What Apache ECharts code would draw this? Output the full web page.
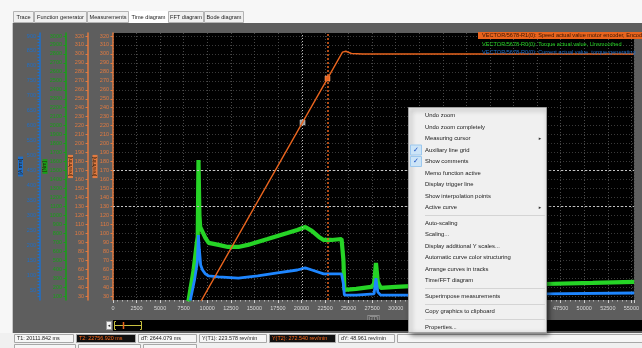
<!DOCTYPE html>
<html><head><meta charset="utf-8">
<script src="https://cdn.jsdelivr.net/npm/echarts@6/dist/echarts.min.js"></script>
<style>html,body{margin:0;padding:0;background:#f3f3f3;}#c{width:642px;height:348px;}</style>
</head><body><div id="c"></div>
<script>
// ---------- data ----------
const speedTime  = [0, 8030, 20111.842, 22756.92, 24350, 24700, 25300, 26500, 40000, 55300];
const speedRpm   = [0, 0, 223.578, 272.54, 302, 303, 300.5, 300, 300, 300];

const torqueTime = [8000, 8550, 8900, 8990, 9070, 9170, 9250, 9500, 9800, 10150, 11200, 12200, 13300, 14300, 15350, 16400, 17450, 18500, 19550, 20400, 21100, 21850, 22350, 23200, 24250, 24450, 24550, 25800, 27400, 27700, 27900, 28100, 28400, 30000, 32100, 38300, 45700, 50900, 55300];
const torqueVal  = [40, 390, 700, 760, 1617, 1000, 870, 815, 748, 692, 670, 647, 647, 670, 703, 736, 770, 803, 837, 870, 826, 759, 725, 725, 736, 500, 168, 179, 201, 234, 469, 257, 190, 201, 212, 220, 234, 246, 257];

const currentTime = [8200, 8650, 8950, 9060, 9170, 9300, 9500, 9800, 10150, 11200, 13300, 15350, 17450, 19550, 20400, 21100, 22350, 24250, 24450, 24550, 25800, 27700, 27900, 28100, 28400, 32100, 45700, 55300];
const currentVal  = [15, 84, 144, 234, 184, 134, 117, 104, 97, 94, 90, 97, 107, 117, 124, 117, 104, 104, 70, 33, 33, 37, 90, 43, 33, 33, 37, 40];

const cursorTimes  = [20111.842, 22756.920];
const cursorValues = [223.578, 272.540];
const commentLevels = [170, 130];

const range = (a, b, s) => { const r = []; for (let v = a; v <= b + 1e-9; v += s) r.push(v); return r; };
const speedTicks   = range(30, 320, 10);
const torqueTicks  = range(100, 3000, 100);
const currentLabels = range(50, 900, 50);
const currentTicks  = range(30, 900, 10);

const legendLines = [
  'VECTOR/5678-R1(0): Speed actual value motor encoder, Encoder',
  'VECTOR/5678-R0(0): Torque actual value, Unsmoothed',
  'VECTOR/5678-R0(0): Current actual value, torque-generating'
];
const tabs = ['Trace', 'Function generator', 'Measurements', 'Time diagram', 'FFT diagram', 'Bode diagram'];
const menuEntries = ['Undo zoom', 'Undo zoom completely', 'Measuring cursor>', 'vAuxiliary line grid', 'vShow comments',
  'Memo function active', 'Display trigger line', 'Show interpolation points', 'Active curve>', '-',
  'Auto-scaling', 'Scaling...', 'Display additional Y scales...', 'Automatic curve color structuring',
  'Arrange curves in tracks', 'Time/FFT diagram', '-', 'Superimpose measurements', '-',
  'Copy graphics to clipboard', '-', 'Properties...'];
const statusTexts = ['T1: 20111.842 ms', 'T2: 22756.920 ms', 'dT: 2644.079 ms', 'Y(T1): 223.578 rev/min', 'Y(T2): 272.540 rev/min', 'dY: 48.961 rev/min', ''];

// ---------- styling ----------
const FONT = 'Liberation Sans';
const ORANGE = '#e8641e', ORANGE_AX = '#e27a40', GREEN = '#26d426', GREEN_AX = '#17a017', BLUE = '#1e86ff', BLUE_AX = '#1f6fc8';
const PLOT_TOP = 33, PLOT_BOT = 300, LBL_TOP = 36, LBL_BOT = 296;

function yAx(lo, hi, labels, ticks, color, offset, name, nameGap, split) {
  const k = (hi - lo) / (LBL_BOT - LBL_TOP);
  return {
    type: 'value', position: 'left', offset: offset,
    min: lo - (PLOT_BOT - LBL_BOT) * k, max: hi + (LBL_TOP - PLOT_TOP) * k,
    axisLine: { show: true, onZero: false, lineStyle: { color: color, width: 1.5 } },
    axisTick: { show: true, length: 2.5, customValues: ticks, lineStyle: { color: color } },
    axisLabel: { customValues: labels, color: color, fontSize: 5.5, margin: 4, fontFamily: FONT, formatter: v => String(Math.round(v)) },
    splitLine: { show: split, lineStyle: { color: '#3a3a3a', type: [1, 2], width: 1 } },
    name: name, nameLocation: 'middle', nameGap: nameGap, nameRotate: 90, nameMoveOverlap: false,
    nameTextStyle: { color: '#2a1a0a', backgroundColor: color, fontSize: 5, padding: [0, 2], fontFamily: FONT }
  };
}

const pair = (t, v) => t.map((x, i) => [x, v[i]]);

const graphics = [];
// white window areas
graphics.push({ type: 'rect', z: 100, shape: { x: 0, y: 0, width: 642, height: 23 }, style: { fill: '#f7f7f7' } });
graphics.push({ type: 'rect', z: 100, shape: { x: 0, y: 0, width: 12, height: 348 }, style: { fill: '#f7f7f7' } });
graphics.push({ type: 'rect', z: 100, shape: { x: 0, y: 333, width: 642, height: 15 }, style: { fill: '#f0f0f0' } });
graphics.push({ type: 'line', z: 100, shape: { x1: 12.5, y1: 23, x2: 12.5, y2: 333 }, style: { stroke: '#c8c8c8', lineWidth: 1 } });
// tabs
const tabX = [13, 34, 87, 129, 168, 204, 244];
tabs.forEach((t, i) => {
  const sel = i === 3;
  graphics.push({ type: 'rect', z: 101, shape: { x: tabX[i] + 0.5, y: 11.5, width: tabX[i + 1] - tabX[i] - 1, height: 11 },
    style: { fill: sel ? '#ffffff' : '#f0f0f0', stroke: sel ? '#ffffff' : '#b4b4b4', lineWidth: 1 } });
  graphics.push({ type: 'text', z: 102, x: (tabX[i] + tabX[i + 1]) / 2, y: 17.5,
    style: { text: t, fill: '#222', fontSize: 5.6, fontFamily: FONT, align: 'center', verticalAlign: 'middle' } });
});
// legend
graphics.push({ type: 'rect', z: 100, shape: { x: 478, y: 32, width: 164, height: 7 }, style: { fill: ORANGE } });
graphics.push({ type: 'text', z: 101, x: 482, y: 35.8, style: { text: legendLines[0], fill: '#3a1400', fontSize: 5.6, fontFamily: FONT, verticalAlign: 'middle' } });
graphics.push({ type: 'text', z: 101, x: 482, y: 44, style: { text: legendLines[1], fill: GREEN, fontSize: 5.6, fontFamily: FONT, verticalAlign: 'middle' } });
graphics.push({ type: 'text', z: 101, x: 482, y: 52, style: { text: legendLines[2], fill: BLUE_AX, fontSize: 5.6, fontFamily: FONT, verticalAlign: 'middle' } });
// scroll strip
graphics.push({ type: 'rect', z: 100, shape: { x: 113, y: 320, width: 529, height: 11 }, style: { fill: '#000' } });
graphics.push({ type: 'rect', z: 101, shape: { x: 106.5, y: 321.5, width: 5, height: 8 }, style: { fill: '#f4f4f4', stroke: '#999' } });
graphics.push({ type: 'text', z: 102, x: 109, y: 325.5, style: { text: '\u25C2', fill: '#333', fontSize: 5, fontFamily: 'DejaVu Sans', align: 'center', verticalAlign: 'middle' } });
graphics.push({ type: 'polyline', z: 101, shape: { points: [[116, 321.5], [114.5, 321.5], [114.5, 329.5], [116, 329.5]] }, style: { stroke: '#c8c040', fill: null, lineWidth: 1 } });
graphics.push({ type: 'polyline', z: 101, shape: { points: [[140, 321.5], [141.5, 321.5], [141.5, 329.5], [140, 329.5]] }, style: { stroke: '#c8c040', fill: null, lineWidth: 1 } });
graphics.push({ type: 'line', z: 101, shape: { x1: 115, y1: 325.5, x2: 141, y2: 325.5 }, style: { stroke: '#c8c040', lineWidth: 1 } });
graphics.push({ type: 'line', z: 102, shape: { x1: 123.5, y1: 322, x2: 123.5, y2: 329 }, style: { stroke: ORANGE, lineWidth: 1.5 } });
// status bar
const stX = [14, 76, 138, 199, 269, 338, 397, 660];
statusTexts.forEach((t, i) => {
  const dark = i === 1 || i === 4;
  graphics.push({ type: 'rect', z: 101, shape: { x: stX[i] + 0.5, y: 334.5, width: stX[i + 1] - stX[i] - 3, height: 8 },
    style: { fill: dark ? '#111' : '#f6f6f6', stroke: '#a8a8a8', lineWidth: 1 } });
  graphics.push({ type: 'text', z: 102, x: stX[i] + 3, y: 338.8,
    style: { text: t, fill: dark ? '#ff6a1a' : '#222', fontSize: 5.4, fontFamily: FONT, verticalAlign: 'middle' } });
});
[[14, 75], [78, 140], [143, 196]].forEach(b => {
  graphics.push({ type: 'rect', z: 101, shape: { x: b[0] + 0.5, y: 344.5, width: b[1] - b[0], height: 8 }, style: { fill: '#f6f6f6', stroke: '#a8a8a8', lineWidth: 1 } });
});
// context menu
graphics.push({ type: 'rect', z: 110, shape: { x: 408.5, y: 107.5, width: 138, height: 225 },
  style: { fill: '#f0f0f0', stroke: '#a0a0a0', lineWidth: 1, shadowBlur: 5, shadowOffsetX: 2, shadowOffsetY: 2, shadowColor: 'rgba(0,0,0,0.55)' } });
let my = 115.5;
menuEntries.forEach(e => {
  if (e === '-') {
    graphics.push({ type: 'line', z: 111, shape: { x1: 425, y1: Math.round(my - 3.8) + 0.5, x2: 545, y2: Math.round(my - 3.8) + 0.5 }, style: { stroke: '#d4d4d4', lineWidth: 1 } });
    my += 4; return;
  }
  let txt = e, check = false, sub = false;
  if (txt[0] === 'v') { check = true; txt = txt.slice(1); }
  if (txt.endsWith('>')) { sub = true; txt = txt.slice(0, -1); }
  if (check) {
    graphics.push({ type: 'rect', z: 111, shape: { x: 410.5, y: my - 5, width: 11, height: 10 }, style: { fill: '#cce4f7', stroke: '#9cc8ee', lineWidth: 1 } });
    graphics.push({ type: 'text', z: 112, x: 416, y: my, style: { text: '\u2713', fill: '#1a4fc0', fontSize: 7, fontWeight: 'bold', fontFamily: 'DejaVu Sans', align: 'center', verticalAlign: 'middle' } });
  }
  graphics.push({ type: 'text', z: 112, x: 425, y: my, style: { text: txt, fill: '#1a1a1a', fontSize: 5.9, fontFamily: FONT, verticalAlign: 'middle' } });
  if (sub) graphics.push({ type: 'text', z: 112, x: 540, y: my, style: { text: '\u25B8', fill: '#333', fontSize: 5, fontFamily: 'DejaVu Sans', align: 'center', verticalAlign: 'middle' } });
  my += 11.5;
});

const option = {
  animation: false,
  backgroundColor: '#5e5e5e',
  grid: { left: 113, right: 0, top: PLOT_TOP, bottom: 348 - PLOT_BOT, show: true, backgroundColor: '#000', borderWidth: 0 },
  xAxis: {
    type: 'value', min: 0, max: (642 - 113) / 0.00957, interval: 2500,
    axisLine: { show: false },
    axisTick: { show: true, length: 3, lineStyle: { color: '#d0d0d0' } },
    minorTick: { show: true, splitNumber: 5, length: 1.5, lineStyle: { color: '#b8b8b8' } },
    axisLabel: { color: '#d6d6d6', fontSize: 5.5, margin: 5, fontFamily: FONT, formatter: v => String(v) },
    splitLine: { show: true, lineStyle: { color: '#4a4a4a', type: [1, 2], width: 1 } },
    name: '[ms]', nameLocation: 'middle', nameGap: 15, nameMoveOverlap: false,
    nameTextStyle: { color: '#222', fontSize: 5.5, fontFamily: FONT, backgroundColor: '#8c8c8c', padding: [0, 1] }
  },
  yAxis: [
    yAx(30, 320, speedTicks, speedTicks, ORANGE_AX, 0, '[rev/min]', 15.5, true),
    yAx(30, 320, speedTicks, speedTicks, ORANGE_AX, 25, '[rev/min]', 15, false),
    yAx(100, 3000, torqueTicks, torqueTicks, GREEN_AX, 47, '[Nm]', 18.5, false),
    yAx(30, 900, currentLabels, currentTicks, BLUE_AX, 73, '[A rms]', 17, false)
  ],
  series: [
    { type: 'line', name: 'Torque', yAxisIndex: 2, data: pair(torqueTime, torqueVal), symbol: 'none', clip: true, z: 3,
      lineStyle: { color: GREEN, width: 4.2 } },
    { type: 'line', name: 'Current', yAxisIndex: 3, data: pair(currentTime, currentVal), symbol: 'none', clip: true, z: 4,
      lineStyle: { color: BLUE, width: 2.8 } },
    { type: 'line', name: 'Speed', yAxisIndex: 0, data: pair(speedTime, speedRpm), symbol: 'none', clip: true, z: 5,
      lineStyle: { color: ORANGE, width: 1.4 },
      markLine: {
        silent: true, symbol: 'none', label: { show: false }, animation: false,
        data: [
          { xAxis: cursorTimes[0], lineStyle: { color: '#bdbdbd', type: [1, 2], width: 1 } },
          { xAxis: cursorTimes[1], lineStyle: { color: ORANGE, type: [2, 2], width: 1.5 } },
          { yAxis: commentLevels[0], lineStyle: { color: '#c4c4c4', type: [2, 2], width: 1 } },
          { yAxis: commentLevels[1], lineStyle: { color: '#c4c4c4', type: [2, 2], width: 1 } }
        ]
      },
      markPoint: {
        symbol: 'rect', symbolSize: 5, label: { show: false }, animation: false,
        data: [
          { coord: [cursorTimes[0], cursorValues[0]], itemStyle: { color: '#9a9a9a', borderColor: '#ddd', borderWidth: 0.5 } },
          { coord: [cursorTimes[1], cursorValues[1]], itemStyle: { color: ORANGE, borderColor: '#ffb080', borderWidth: 0.5 } }
        ]
      }
    }
  ],
  graphic: graphics
};
const chart = echarts.init(document.getElementById('c'));
chart.setOption(option);
</script>
</body></html>
